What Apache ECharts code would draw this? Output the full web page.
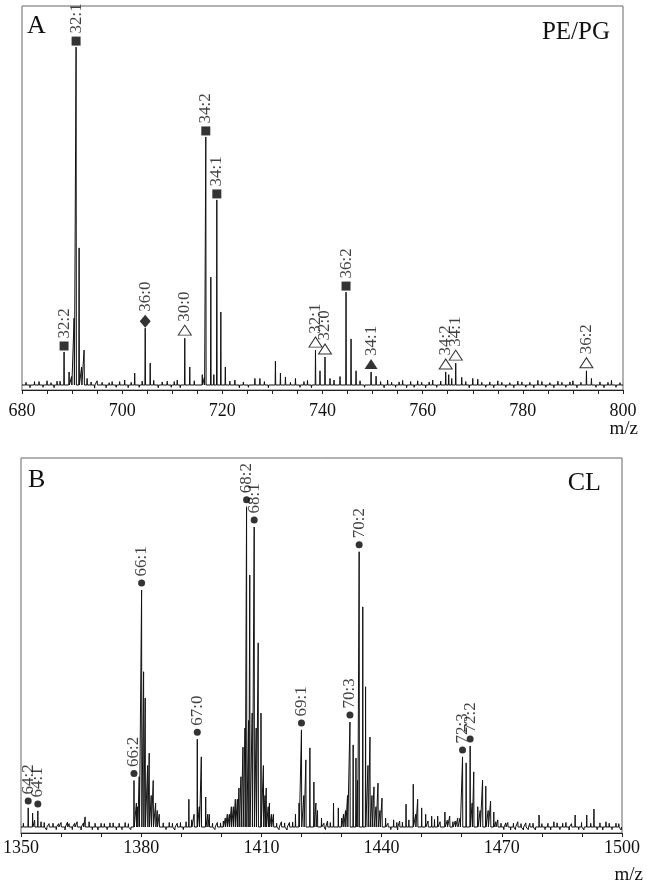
<!DOCTYPE html>
<html>
<head>
<meta charset="utf-8">
<script src="https://cdn.jsdelivr.net/npm/echarts@6/dist/echarts.min.js"></script>
<style>
  html, body { margin: 0; padding: 0; background: #fff; }
  #chart { width: 647px; height: 894px; }
</style>
</head>
<body>
<div id="chart"></div>
<script>
// ---- panel A : PE/PG ----
const tickA = [680, 700, 720, 740, 760, 780, 800];
const tagNameA = ['32:2', '32:1', '36:0', '30:0', '34:2', '34:1', '32:1', '32:0', '36:2', '34:1', '34:2', '34:1', '36:2'];
const tagMzA   = [688.4, 690.8, 704.6, 712.5, 716.7, 718.9, 738.6, 740.5, 744.7, 749.7, 764.6, 766.6, 792.7];
const tagIntA  = [9.9, 89.3, 16.1, 13.5, 65.9, 49.5, 10.4, 8.6, 25.5, 4.7, 4.7, 7.0, 5.0];
const tagSymA  = ['sq', 'sq', 'dia', 'tri', 'sq', 'sq', 'tri', 'tri', 'sq', 'ftri', 'tri', 'tri', 'tri'];
const peakMzA  = [682.5, 685, 687, 689.4, 690.4, 691.4, 692.4, 693.0, 695, 698, 700.5, 702.5, 705.6, 706.3, 709, 711, 713.5, 716.0,
                  717.7, 719.7, 720.6, 722.5, 726.5, 727.5, 730.6, 731.6, 732.6, 734.6, 737, 739.5, 741.5, 743.5, 745.7, 746.7,
                  750.7, 753, 756, 759, 762, 765.2, 767.8, 770.0, 771.0, 775, 779, 783, 787, 790, 793.7, 797.7];
const peakIntA = [2.2, 2.4, 2.3, 4.7, 18.7, 37.0, 10.4, 3.0, 2.4, 2.2, 2.6, 4.4, 7.0, 2.5, 2.3, 2.6, 6.0, 4.0,
                  29.4, 20.3, 6.0, 2.6, 3.0, 3.0, 7.5, 4.4, 3.4, 3.0, 2.5, 5.0, 3.0, 3.5, 13.3, 5.0,
                  3.6, 2.6, 2.5, 2.4, 2.6, 4.0, 3.3, 3.0, 2.8, 2.4, 2.3, 2.5, 2.3, 2.4, 3.0, 2.5];
const noiseMzA  = [680.8, 681.6, 683.4, 684.2, 685.8, 686.4, 687.6, 689.9, 691.9, 693.8, 694.5, 696.0, 696.8, 697.4, 698.8, 699.5,
                   701.2, 701.8, 703.4, 704.0, 707.2, 708.0, 709.8, 710.4, 711.6, 714.4, 715.2, 716.4, 718.3, 721.5, 723.4, 724.2,
                   725.2, 728.4, 729.2, 733.6, 735.5, 736.3, 737.8, 742.3, 747.5, 748.4, 751.6, 752.3, 753.8, 754.6, 755.3,
                   756.8, 757.6, 758.3, 759.8, 760.6, 761.3, 762.8, 763.6, 765.8, 768.6, 769.3, 771.8, 772.6, 773.4, 774.2,
                   775.8, 776.6, 777.4, 778.2, 779.8, 780.6, 781.4, 782.2, 783.8, 784.6, 785.4, 786.2, 787.8, 788.6, 789.4,
                   790.8, 791.6, 794.6, 795.4, 796.2, 797.0, 798.6, 799.4];
const noiseIntA = [2.0, 0.6, 2.2, 0.7, 1.9, 0.6, 2.3, 3.5, 6.0, 2.1, 0.5, 2.0, 0.6, 1.9, 0.7, 2.2,
                   0.6, 2.0, 0.7, 2.3, 0.6, 2.1, 0.7, 2.2, 0.6, 2.4, 0.8, 3.2, 4.0, 2.3, 0.6, 2.1,
                   0.7, 2.2, 0.6, 2.0, 0.7, 2.2, 0.6, 2.6, 2.4, 0.7, 2.2, 0.6, 2.0, 0.7, 2.1,
                   0.6, 2.2, 0.7, 2.0, 0.6, 2.1, 0.7, 2.3, 3.0, 2.2, 0.6, 2.0, 0.7, 2.1, 0.6,
                   2.0, 0.7, 1.9, 0.6, 2.1, 0.7, 2.0, 0.6, 2.2, 0.7, 1.9, 0.6, 2.0, 0.7, 2.1,
                   0.6, 2.0, 0.7, 2.1, 0.6, 2.0, 0.7, 1.9];
const baseA = 1.3;

// ---- panel B : CL ----
const tickB = [1350, 1380, 1410, 1440, 1470, 1500];
const tagNameB = ['64:2', '64:1', '66:2', '66:1', '67:0', '68:2', '68:1', '69:1', '70:3', '70:2', '72:3', '72:2'];
const tagMzB   = [1351.8, 1354.2, 1378.2, 1380.1, 1394.0, 1406.3, 1408.2, 1420.0, 1432.1, 1434.4, 1460.2, 1462.1];
const tagIntB  = [6.7, 5.9, 14.0, 64.8, 25.0, 87.0, 81.6, 27.5, 29.6, 75.0, 20.3, 23.2];
const peakMzB  = [1352.9, 1355.0, 1357.0, 1360, 1362.0, 1364, 1366.0, 1367.0, 1370, 1373, 1376,
                  1378.8, 1379.5, 1380.6, 1381.0, 1382.0, 1383.0, 1383.6, 1384.5, 1387, 1389,
                  1391.9, 1393.2, 1395.0, 1396.1, 1397.0, 1399, 1401.5, 1402.5, 1403.5, 1404.4, 1405.4, 1405.9,
                  1406.8, 1407.1, 1407.7, 1408.7, 1409.2, 1409.9, 1410.5, 1411.2, 1412.0, 1413.0, 1415, 1417,
                  1418.5, 1419.4, 1421.1, 1422.1, 1423.1, 1424.0, 1425.0, 1426.5, 1428.0, 1429.2, 1430.5, 1431.5,
                  1432.9, 1433.6, 1435.3, 1436.0, 1437.1, 1438.1, 1439.1, 1440.1, 1441.0, 1443.0, 1444.5,
                  1446.1, 1447.9, 1449.0, 1450.0, 1451.0, 1452.5, 1454.0, 1455.8, 1457.0, 1459.0,
                  1461.1, 1463.0, 1464.0, 1465.2, 1466.0, 1467.2, 1468.0, 1469.0, 1471.5, 1474.0, 1477,
                  1479.3, 1483.0, 1486, 1488.3, 1491.2, 1493.0, 1496.0, 1498.5];
const peakIntB = [5.3, 3.0, 2.5, 2.8, 2.5, 3.0, 4.3, 3.0, 2.6, 2.7, 2.8,
                  8.0, 15.0, 43.0, 36.0, 21.3, 14.0, 8.0, 5.0, 2.8, 2.6,
                  9.0, 5.0, 20.3, 9.6, 5.0, 2.8, 5.0, 7.0, 9.0, 12.0, 22.9, 28.0,
                  30.0, 68.8, 32.0, 28.0, 50.7, 32.0, 18.0, 12.0, 8.0, 5.0, 3.0, 2.8,
                  5.0, 8.0, 19.5, 22.7, 13.6, 6.0, 4.0, 3.2, 8.0, 6.7, 5.0, 10.0,
                  23.5, 20.0, 60.3, 39.0, 25.6, 12.3, 13.3, 9.3, 4.0, 3.5, 3.2,
                  7.7, 13.0, 9.0, 6.7, 5.0, 4.5, 4.5, 5.6, 4.5, 4.0,
                  18.7, 16.3, 7.0, 14.1, 12.5, 8.5, 5.6, 3.5, 2.8, 3.0, 2.6,
                  4.8, 3.0, 2.8, 4.8, 4.8, 6.4, 3.0, 2.6];
const noiseMzB  = [1350.6, 1353.4, 1355.8, 1356.4, 1358.0, 1358.8, 1359.4, 1361.0, 1361.6, 1362.8, 1363.4, 1365.0, 1365.6,
                   1367.8, 1368.5, 1369.2, 1370.8, 1371.5, 1372.2, 1373.8, 1374.5, 1375.2, 1376.8, 1377.4, 1379.1, 1381.6,
                   1382.5, 1384.0, 1385.5, 1386.2, 1387.8, 1388.4, 1389.8, 1390.5, 1391.2, 1392.6, 1394.5, 1396.6, 1397.8,
                   1398.4, 1399.8, 1400.5, 1401.0, 1402.0, 1403.0, 1404.0, 1404.9, 1410.9, 1411.7, 1412.5, 1413.8, 1414.4,
                   1415.8, 1416.4, 1417.8, 1420.6, 1423.6, 1425.6, 1426.0, 1427.2, 1430.0, 1431.0, 1434.0, 1436.6, 1437.6,
                   1438.6, 1439.6, 1441.6, 1442.3, 1443.8, 1444.0, 1445.2, 1446.8, 1448.5, 1451.6, 1453.2, 1454.6, 1456.4,
                   1457.8, 1458.4, 1459.6, 1462.6, 1464.6, 1466.6, 1468.5, 1469.8, 1470.5, 1471.0, 1472.2, 1472.9, 1473.4,
                   1474.8, 1475.4, 1476.0, 1476.6, 1477.8, 1478.4, 1480.0, 1480.8, 1481.5, 1482.2, 1483.8, 1484.5, 1485.2,
                   1486.8, 1487.4, 1489.2, 1489.9, 1490.5, 1492.2, 1493.8, 1494.5, 1495.2, 1496.8, 1497.5, 1499.2, 1499.8];
const noiseIntB = [2.6, 3.4, 2.8, 0.8, 2.6, 0.9, 2.5, 0.8, 2.9, 0.9, 2.6, 0.8, 2.7,
                   0.9, 2.6, 0.8, 2.5, 0.9, 2.7, 0.8, 2.6, 0.9, 2.5, 0.9, 7.0, 18.0,
                   10.0, 6.0, 2.7, 0.9, 2.6, 0.8, 2.8, 0.9, 3.0, 3.5, 7.0, 5.0, 2.6,
                   0.9, 2.7, 3.2, 4.0, 5.0, 7.0, 9.0, 15.0, 10.0, 7.0, 5.0, 2.6, 0.9,
                   2.7, 0.8, 2.9, 10.0, 8.0, 2.6, 0.9, 2.8, 4.0, 6.0, 14.0, 18.0, 10.0,
                   7.0, 6.0, 2.6, 0.9, 2.8, 0.8, 2.9, 3.5, 5.0, 3.2, 3.6, 3.0, 3.4,
                   3.0, 3.2, 4.0, 8.0, 6.0, 6.0, 3.0, 2.6, 0.9, 2.7, 0.8, 2.6, 0.9,
                   2.5, 0.8, 2.7, 0.9, 2.6, 0.8, 2.5, 0.9, 2.6, 0.8, 2.7, 0.9, 2.6,
                   0.8, 2.5, 0.9, 2.8, 0.8, 2.6, 0.9, 2.7, 0.8, 2.6, 0.9, 2.5, 0.8];
const baseB = 1.6;

const SYM = {
  sq:   { symbol: 'rect', size: 9, off: -6, fill: '#000' },
  dia:  { symbol: 'diamond', size: [11, 13], off: -7, fill: '#000' },
  tri:  { symbol: 'triangle', size: [13, 10], off: -8, fill: '#fff' },
  ftri: { symbol: 'triangle', size: [13, 10], off: -8, fill: '#000' },
  dot:  { symbol: 'circle', size: 7, off: -7, fill: '#000' }
};

const SERIF = '"Liberation Serif", "DejaVu Serif", serif';

// stick spectrum: each line rises from the noise floor to its height and back
function trace(min, max, base, mzs, ints) {
  const pts = mzs.map((m, i) => [m, ints[i]]).sort((a, b) => a[0] - b[0]);
  const out = [[min, base]];
  pts.forEach(p => {
    out.push([p[0] - 0.06, base], [p[0], p[1]], [p[0] + 0.06, base]);
  });
  out.push([max, base]);
  return out;
}

function tags(names, mzs, ints, syms) {
  return names.map((n, i) => {
    const s = SYM[syms[i]];
    return {
      name: n,
      value: [mzs[i], ints[i]],
      symbol: s.symbol,
      symbolSize: s.size,
      symbolOffset: [0, s.off],
      itemStyle: { color: s.fill, borderColor: '#000', borderWidth: s.fill === '#fff' ? 1 : 0 }
    };
  });
}

function xAxisCfg(idx, min, max, interval, minorSplit, margin) {
  return {
    type: 'value', gridIndex: idx, min: min, max: max, interval: interval,
    axisLine: { lineStyle: { color: '#222', width: 1 } },
    axisTick: { show: true, length: 4, lineStyle: { color: '#222' } },
    minorTick: { show: true, splitNumber: minorSplit, length: 4, lineStyle: { color: '#222' } },
    splitLine: { show: false },
    axisLabel: {
      margin: margin, color: '#111', fontFamily: SERIF, fontSize: 18,
      showMinLabel: true, showMaxLabel: true, formatter: v => String(v)
    }
  };
}

function yAxisCfg(idx) {
  return { type: 'value', gridIndex: idx, min: 0, max: 100, show: false };
}

const tagLabel = {
  show: true, formatter: '{b}', position: 'top', distance: 3, rotate: 90,
  align: 'left', verticalAlign: 'middle',
  color: '#111', fontFamily: SERIF, fontSize: 17
};

const chart = echarts.init(document.getElementById('chart'), null, { renderer: 'canvas' });

const allMzA = peakMzA.concat(tagMzA, noiseMzA), allIntA = peakIntA.concat(tagIntA, noiseIntA);
const allMzB = peakMzB.concat(tagMzB, noiseMzB), allIntB = peakIntB.concat(tagIntB, noiseIntB);

chart.setOption({
  animation: false,
  backgroundColor: '#fff',
  grid: [
    { left: 22, top: 6, width: 601, height: 384, show: true, borderColor: '#666', borderWidth: 1 },
    { left: 21, top: 458, width: 601, height: 375, show: true, borderColor: '#666', borderWidth: 1 }
  ],
  xAxis: [
    xAxisCfg(0, tickA[0], tickA[tickA.length - 1], 20, 4, 12),
    xAxisCfg(1, tickB[0], tickB[tickB.length - 1], 30, 3, 6)
  ],
  yAxis: [yAxisCfg(0), yAxisCfg(1)],
  graphic: [
    { type: 'text', left: 27, top: 13, style: { text: 'A', font: '26px ' + SERIF, fill: '#111' } },
    { type: 'text', right: 37, top: 20, style: { text: 'PE/PG', font: '25px ' + SERIF, fill: '#111' } },
    { type: 'text', left: 28, top: 467, style: { text: 'B', font: '26px ' + SERIF, fill: '#111' } },
    { type: 'text', right: 46, top: 470, style: { text: 'CL', font: '26px ' + SERIF, fill: '#111' } },
    { type: 'text', right: 9, top: 420, style: { text: 'm/z', font: '19px ' + SERIF, fill: '#111' } },
    { type: 'text', right: 4, top: 866, style: { text: 'm/z', font: '19px ' + SERIF, fill: '#111' } }
  ],
  series: [
    {
      type: 'line', xAxisIndex: 0, yAxisIndex: 0, showSymbol: false,
      lineStyle: { color: '#111', width: 1 },
      data: trace(tickA[0], tickA[tickA.length - 1], baseA, allMzA, allIntA)
    },
    {
      type: 'scatter', xAxisIndex: 0, yAxisIndex: 0, z: 5,
      label: tagLabel,
      data: tags(tagNameA, tagMzA, tagIntA, tagSymA)
    },
    {
      type: 'line', xAxisIndex: 1, yAxisIndex: 1, showSymbol: false,
      lineStyle: { color: '#111', width: 1 },
      data: trace(tickB[0], tickB[tickB.length - 1], baseB, allMzB, allIntB)
    },
    {
      type: 'scatter', xAxisIndex: 1, yAxisIndex: 1, z: 5,
      label: tagLabel,
      data: tags(tagNameB, tagMzB, tagIntB, tagNameB.map(() => 'dot'))
    }
  ]
});
</script>
</body>
</html>
